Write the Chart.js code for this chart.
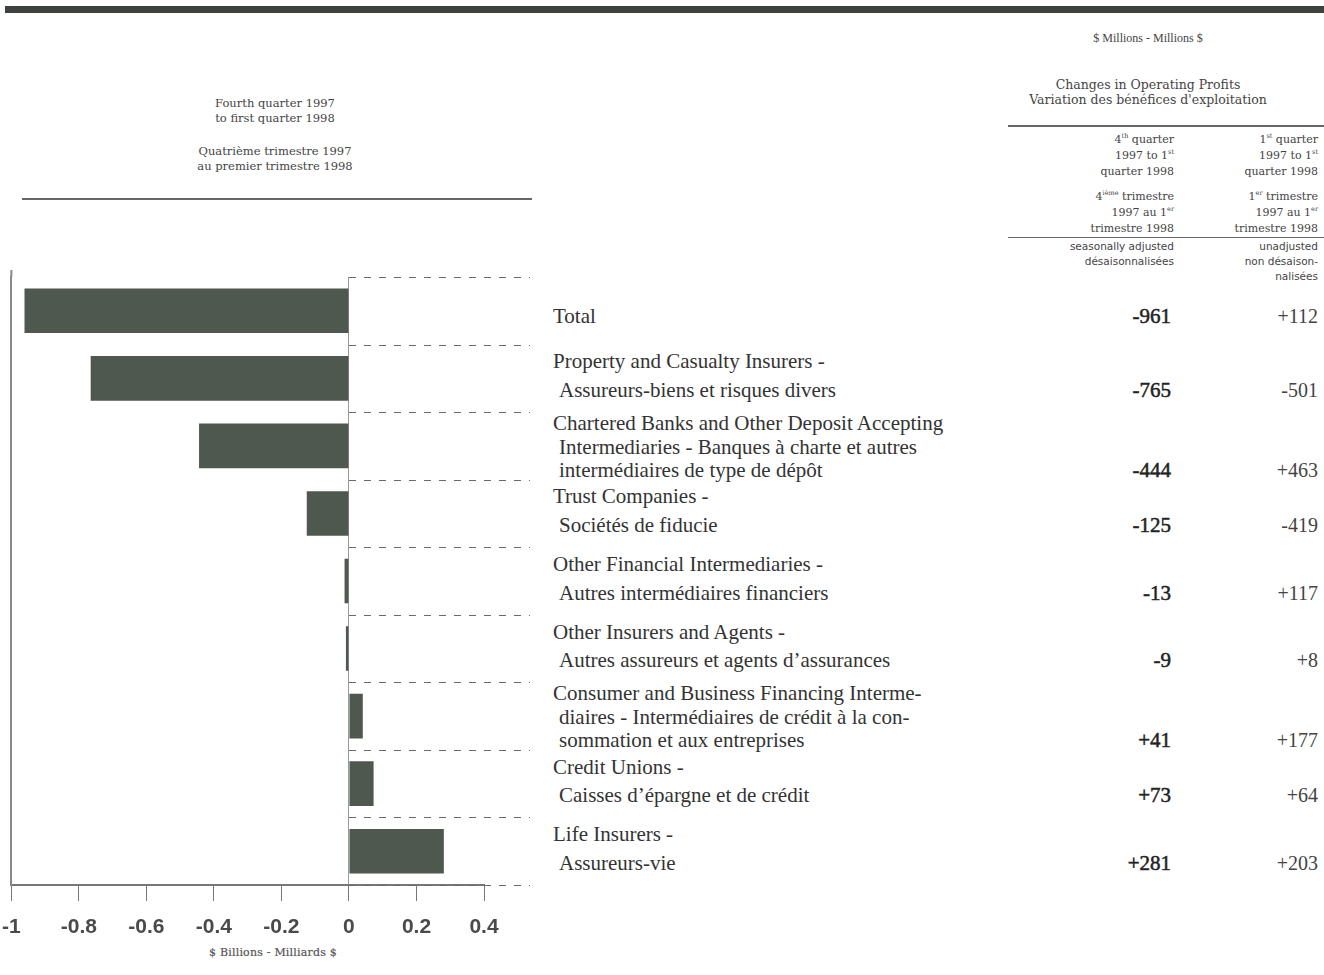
<!DOCTYPE html>
<html>
<head>
<meta charset="utf-8">
<script src="https://cdn.jsdelivr.net/npm/chart.js@4.4.1/dist/chart.umd.min.js"></script>
<style>
  body { margin: 0; background: #fff; width: 1324px; height: 975px; position: relative; overflow: hidden;
         font-family: "Liberation Serif", "DejaVu Serif", serif; color: #333; }
  .abs { position: absolute; }
  .topband { left: 5px; top: 6px; width: 1319px; height: 7px; background: #3d423f; }
  .hdr { text-align: center; font-family: "DejaVu Serif", serif; font-size: 11.5px; line-height: 15px; color: #444; }
  .rule { background: #666; }
  .colhead { text-align: right; font-family: "DejaVu Serif", serif; font-size: 11px; line-height: 16px; color: #444; }
  .colhead sup { font-size: 6.5px; line-height: 0; }
  .adj { text-align: right; font-family: "DejaVu Sans", sans-serif; font-size: 10.5px; line-height: 15px; color: #444; }
  .row { font-size: 21px; color: #333; white-space: nowrap; }
  .row .ind { padding-left: 6px; }
  .val1 { text-align: right; font-size: 21px; color: #222; -webkit-text-stroke: 0.5px #222; }
  .val2 { text-align: right; font-size: 20px; color: #444; }
  .xtitle { left: 163px; top: 945px; width: 220px; text-align: center; font-family: "DejaVu Serif", serif;
            font-size: 11px; line-height: 16px; letter-spacing: 0.2px; color: #555; -webkit-text-stroke: 0.2px #555; }
  #chartBox { left: -12px; top: 262px; width: 552px; height: 683px; }
</style>
</head>
<body>
<div class="abs topband"></div>

<div class="abs hdr" style="left:125px; top:96px; width:300px;">Fourth quarter 1997<br>to first quarter 1998</div>
<div class="abs hdr" style="left:125px; top:144px; width:300px;">Quatrième trimestre 1997<br>au premier trimestre 1998</div>
<div class="abs rule" style="left:22px; top:198px; width:510px; height:2px;"></div>

<div class="abs" style="left:1048px; top:31px; width:200px; text-align:center; font-size:12px; line-height:15px; color:#444;">$ Millions - Millions $</div>
<div class="abs hdr" style="left:998px; top:77px; width:300px; font-size:12.5px;">Changes in Operating Profits<br>Variation des bénéfices d'exploitation</div>
<div class="abs rule" style="left:1008px; top:125px; width:316px; height:2px;"></div>

<div class="abs colhead" style="left:1004px; top:132px; width:170px;">4<sup>th</sup> quarter<br>1997 to 1<sup>st</sup><br>quarter 1998</div>
<div class="abs colhead" style="left:1004px; top:189px; width:170px;">4<sup>ième</sup> trimestre<br>1997 au 1<sup>er</sup><br>trimestre 1998</div>
<div class="abs colhead" style="left:1148px; top:132px; width:170px;">1<sup>st</sup> quarter<br>1997 to 1<sup>st</sup><br>quarter 1998</div>
<div class="abs colhead" style="left:1148px; top:189px; width:170px;">1<sup>er</sup> trimestre<br>1997 au 1<sup>er</sup><br>trimestre 1998</div>
<div class="abs rule" style="left:1008px; top:237px; width:316px; height:1px;"></div>
<div class="abs adj" style="left:1004px; top:239px; width:170px;">seasonally adjusted<br>désaisonnalisées</div>
<div class="abs adj" style="left:1148px; top:239px; width:170px;">unadjusted<br>non désaison-<br>nalisées</div>

<div id="chartBox" class="abs"><canvas id="chart"></canvas></div>
<div class="abs xtitle">$ Billions - Milliards $</div>
<div id="rows"></div>

<script>
// --- DATOS ---
const categories = [
    ['Total'],
    ['Property and Casualty Insurers -', 'Assureurs-biens et risques divers'],
    ['Chartered Banks and Other Deposit Accepting', 'Intermediaries - Banques à charte et autres', 'intermédiaires de type de dépôt'],
    ['Trust Companies -', 'Sociétés de fiducie'],
    ['Other Financial Intermediaries -', 'Autres intermédiaires financiers'],
    ['Other Insurers and Agents -', 'Autres assureurs et agents d\u2019assurances'],
    ['Consumer and Business Financing Interme-', 'diaires - Intermédiaires de crédit à la con-', 'sommation et aux entreprises'],
    ['Credit Unions -', 'Caisses d\u2019épargne et de crédit'],
    ['Life Insurers -', 'Assureurs-vie']
];
// $ millions, 4th quarter 1997 to 1st quarter 1998, seasonally adjusted
const seasonallyAdjusted = [-961, -765, -444, -125, -13, -9, 41, 73, 281];
// $ millions, 1st quarter 1997 to 1st quarter 1998, unadjusted
const unadjusted = [112, -501, 463, -419, 117, 8, 177, 64, 203];
const xTickLabels = ['-1', '-0.8', '-0.6', '-0.4', '-0.2', '0', '0.2', '0.4'];
const xTickValues = [-1000, -800, -600, -400, -200, 0, 200, 400];

function signed(v) {
    return v > 0 ? '+' + v : String(v);
}

// lignes pointillées entre les catégories, à droite du zéro
const dashPlugin = {
    id: 'dashes',
    beforeDatasetsDraw(chart) {
        const { ctx, scales: { x, y } } = chart;
        const x0 = x.getPixelForValue(0);
        const x1 = chart.width - 10;
        ctx.save();
        ctx.strokeStyle = '#6a6a6a';
        ctx.lineWidth = 1;
        ctx.setLineDash([7, 8]);
        for (let i = 0; i <= categories.length; i++) {
            const yy = Math.round(y.getPixelForValue(i - 0.5)) + 0.5;
            ctx.beginPath();
            ctx.moveTo(x0, yy);
            ctx.lineTo(x1, yy);
            ctx.stroke();
        }
        // axe vertical gauche prolongé un peu au-dessus
        ctx.setLineDash([]);
        ctx.strokeStyle = '#888';
        ctx.lineWidth = 2;
        ctx.beginPath();
        ctx.moveTo(chart.chartArea.left, chart.chartArea.top - 7);
        ctx.lineTo(chart.chartArea.left, chart.chartArea.top);
        ctx.stroke();
        ctx.restore();
    }
};

const chart = new Chart(document.getElementById('chart'), {
    type: 'bar',
    data: {
        labels: categories.map(c => c.join(' ')),
        datasets: [{
            data: seasonallyAdjusted,
            backgroundColor: '#4e584f',
            borderWidth: 0,
            barPercentage: 0.66,
            categoryPercentage: 1
        }]
    },
    options: {
        indexAxis: 'y',
        responsive: true,
        maintainAspectRatio: false,
        animation: false,
        layout: { padding: { left: 0, right: 56, top: 15, bottom: 0 } },
        plugins: { legend: { display: false }, tooltip: { enabled: false } },
        scales: {
            x: {
                min: -1000,
                max: 400,
                afterBuildTicks: axis => { axis.ticks = xTickValues.map(v => ({ value: v })); },
                afterFit: axis => { axis.height = 60; },
                grid: {
                    color: c => (c.tick && c.tick.value === 0) ? '#9a9a9a' : 'transparent',
                    tickColor: '#777',
                    tickLength: 16,
                    drawOnChartArea: true
                },
                border: { display: true, color: '#777', width: 2 },
                ticks: {
                    color: '#4a4a4a',
                    padding: 14,
                    maxRotation: 0,
                    autoSkip: false,
                    font: { family: '"Liberation Sans", Arial, sans-serif', size: 21, weight: 'bold' },
                    callback: (v, i) => xTickLabels[i]
                }
            },
            y: {
                grid: { display: true, color: 'transparent', drawTicks: false },
                border: { display: true, color: '#888', width: 2 },
                ticks: { display: false }
            }
        }
    },
    plugins: [dashPlugin]
});

// --- TABLEAU À DROITE ---
const rowsEl = document.getElementById('rows');
const boxTop = 262;
const shiftByLines = { 1: 5.5, 2: -2.5, 3: 1.5 };
categories.forEach((lines, i) => {
    const center = chart.scales.y.getPixelForValue(i) + boxTop + shiftByLines[lines.length];
    const pitch = lines.length === 3 ? 23.5 : 28.5;
    const top = center - lines.length * pitch / 2;
    const block = document.createElement('div');
    block.className = 'abs row';
    block.style.left = '553px';
    block.style.top = top + 'px';
    block.style.lineHeight = pitch + 'px';
    block.innerHTML = lines.map((t, k) => `<div class="${k > 0 ? 'ind' : ''}">${t}</div>`).join('');
    rowsEl.appendChild(block);

    const lastTop = top + (lines.length - 1) * pitch;
    const v1 = document.createElement('div');
    v1.className = 'abs val1';
    v1.style.cssText = `left:1021px; width:150px; top:${lastTop}px; line-height:${pitch}px;`;
    v1.textContent = signed(seasonallyAdjusted[i]);
    rowsEl.appendChild(v1);

    const v2 = document.createElement('div');
    v2.className = 'abs val2';
    v2.style.cssText = `left:1168px; width:150px; top:${lastTop}px; line-height:${pitch}px;`;
    v2.textContent = signed(unadjusted[i]);
    rowsEl.appendChild(v2);
});
</script>
</body>
</html>
